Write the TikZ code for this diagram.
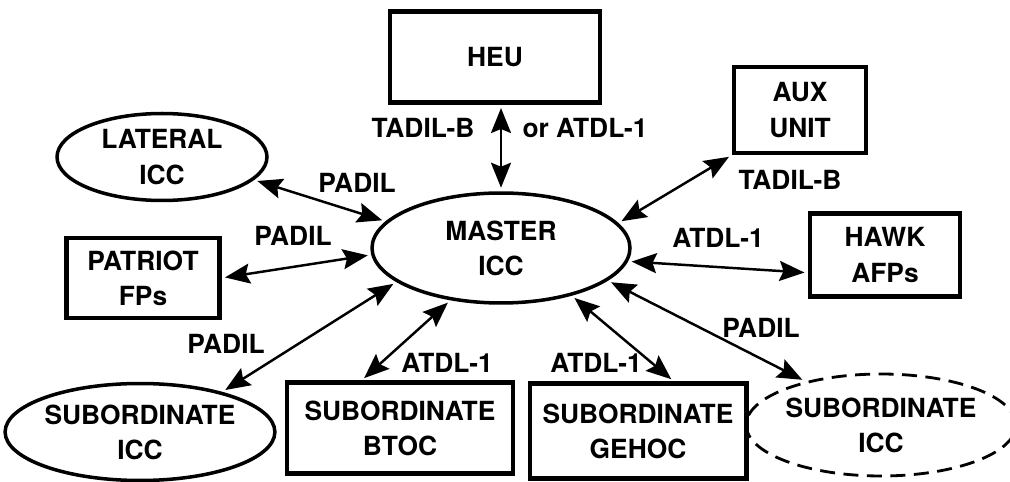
\documentclass[tikz,border=0pt]{standalone}
\usepackage{fontspec}
\setmainfont{TeX Gyre Heros}
\usetikzlibrary{arrows.meta,shapes.geometric}

\tikzset{LinkTip/.tip={Stealth[length=0.5cm,width=0.4cm,inset=0.08cm]}}

\begin{document}
\begin{tikzpicture}[x=0.02cm, y=-0.02cm,
  every node/.style = {font=\bfseries\fontsize{15}{20}\selectfont,
                       align=center, inner sep=0pt},
  UnitBox/.style    = {draw, rectangle, line width=2.3pt},
  UnitOval/.style   = {draw, ellipse, line width=2pt},
  Link/.style       = {LinkTip-LinkTip, line width=1.4pt, shorten <=2pt, shorten >=2pt}]

\useasboundingbox (0,0) rectangle (1010,482);

% centre

\node[UnitOval, minimum width=5.16cm, minimum height=2.2cm] (master) at (501,248) {MASTER\\ICC};

% top row

\node[UnitBox, minimum width=4.2cm, minimum height=1.82cm] (heu) at (495,57) {HEU};
\node[UnitBox, minimum width=2.64cm, minimum height=1.72cm] (aux) at (800,110) {AUX\\UNIT};
\node[UnitOval, minimum width=4.2cm, minimum height=1.74cm] (lateral) at (162,157) {LATERAL\\ICC};

% middle row

\node[UnitBox, minimum width=3.06cm, minimum height=1.6cm] (patriot) at (143,278) {PATRIOT\\FPs};
\node[UnitBox, minimum width=3.0cm, minimum height=1.66cm] (hawk) at (885,255) {HAWK\\AFPs};

% bottom row

\node[UnitOval, minimum width=5.08cm, minimum height=1.94cm] (subicc) at (140,432) {SUBORDINATE\\ICC};
\node[UnitBox, minimum width=4.52cm, minimum height=1.82cm] (btoc) at (400,428) {SUBORDINATE\\BTOC};
\node[UnitBox, minimum width=4.34cm, minimum height=1.9cm] (gehoc) at (638,431) {SUBORDINATE\\GEHOC};
\node[draw, ellipse, line width=1.6pt, dash pattern=on 0.3cm off 0.17cm,
      minimum width=5.06cm, minimum height=2.04cm] (subiccb) at (881,425) {SUBORDINATE\\ICC};

% link labels

\node (lheu)  at (423,128) {TADIL-B};
\node (lheub) at (585,128) {or ATDL-1};
\node (laux)  at (790,180) {TADIL-B};
\node (llat)  at (357,183) {PADIL};
\node (lpat)  at (293,236) {PADIL};
\node (lhawk) at (718,238) {ATDL-1};
\node (lsub)  at (226,344) {PADIL};
\node (lbtoc) at (447,363) {ATDL-1};
\node (lgeh)  at (596,363) {ATDL-1};
\node (lsubb) at (761,328) {PADIL};

% links

\draw[Link] (heu.south -| master.north) -- (master.north);
\draw[Link] (aux.south west) -- (master.12);
\draw[Link] (lateral.-14) -- (master.167);
\draw[Link] (patriot.east) -- (master.183);
\draw[Link] (hawk.193) -- (master.-6);
\draw[Link] (subicc.26) -- (master.198);
\draw[Link] (btoc.129) -- (master.226);
\draw[Link] (gehoc.54) -- (master.-34);
\draw[Link] (subiccb.150) -- (master.-17);

\end{tikzpicture}
\end{document}
